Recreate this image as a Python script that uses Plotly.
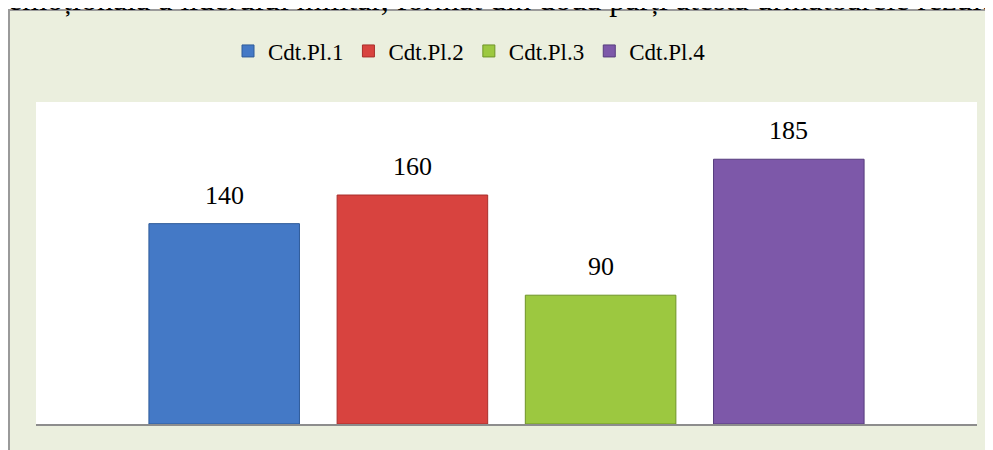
import plotly.graph_objects as go

categories = ["Cdt.Pl.1", "Cdt.Pl.2", "Cdt.Pl.3", "Cdt.Pl.4"]
values = [140, 160, 90, 185]
colors = ["#4479C6", "#D8433F", "#9CC840", "#7D58A9"]
edge_colors = ["#2F5C9A", "#A82E2B", "#6F9428", "#563C7D"]
top_text = "emoțională a liderului militar, format din două părți atestă următoarele rezultate"

# figure drawn inside the page body (8px default margin)
W, H = 985, 442
ml, mt = 28, 94
mr = W - 969
mb = H - 416
pw, ph = W - ml - mr, H - mt - mb

def px_x(p):
    return (p - ml) / pw

def px_y(p):
    return (H - mb - p) / ph

fig = go.Figure()
for cat, val, col, ec in zip(categories, values, colors, edge_colors):
    fig.add_trace(go.Bar(
        x=[cat], y=[val], name=cat,
        marker=dict(color=col, line=dict(color=ec, width=1)),
        width=0.8,
    ))
    fig.add_annotation(
        x=cat, y=val, xref="x", yref="y", text=str(val),
        showarrow=False, yanchor="bottom", yshift=12,
        font=dict(family="Liberation Serif", size=26, color="black"),
    )

# chart box background and plot area
fig.add_shape(type="rect", xref="paper", yref="paper",
              x0=px_x(1), x1=1.2, y0=-0.3, y1=px_y(2),
              fillcolor="#EBEFDE", line=dict(color="#9A9A9A", width=2), layer="below")
fig.add_shape(type="rect", xref="paper", yref="paper",
              x0=0, x1=1, y0=0, y1=1,
              fillcolor="white", line=dict(width=0), layer="below")

fig.add_annotation(
    xref="paper", yref="paper", x=px_x(-2), y=px_y(11),
    xanchor="left", yanchor="bottom", text=top_text, showarrow=False,
    font=dict(family="Liberation Serif", size=32, color="black"),
)

fig.update_layout(
    width=W, height=H,
    margin=dict(l=ml, r=mr, t=mt, b=mb),
    paper_bgcolor="white", plot_bgcolor="rgba(0,0,0,0)",
    barmode="overlay",
    showlegend=True,
    legend=dict(orientation="h", x=px_x(220), xanchor="left",
                y=px_y(43), yanchor="middle",
                font=dict(family="Liberation Serif", size=23, color="black"),
                bgcolor="rgba(0,0,0,0)", itemwidth=30, traceorder="normal"),
    xaxis=dict(range=[-1, 4], showticklabels=False, ticks="", showgrid=False,
               zeroline=False, showline=True, linecolor="#8D8D8D", linewidth=2),
    yaxis=dict(range=[0, 225], visible=False, showgrid=False, zeroline=False),
)

fig.write_html("out.html")
